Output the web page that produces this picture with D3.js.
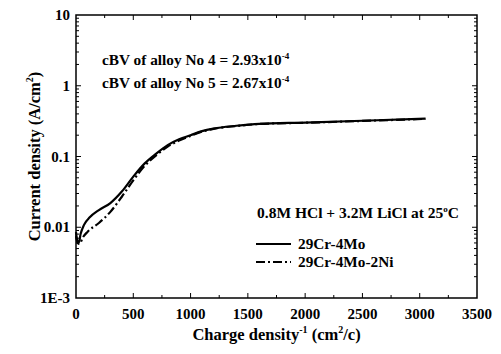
<!DOCTYPE html>
<html>
<head>
<meta charset="utf-8">
<script src="https://cdn.jsdelivr.net/npm/d3@7"></script>
<style>
  body { margin: 0; background: #fff; }
  text { font-family: "Liberation Serif", "Times New Roman", serif; font-weight: bold; fill: #000; }
</style>
</head>
<body>
<div id="chart"></div>
<script>
var svgWidth = 501;
var svgHeight = 354;

var margin = { top: 15, right: 24, bottom: 56, left: 76 };
var width = svgWidth - margin.left - margin.right;
var height = svgHeight - margin.top - margin.bottom;

// data
var chargeCr4Mo = [0, 10, 25, 40, 70, 120, 200, 300, 400, 500, 600, 700, 800, 900, 1000, 1100, 1200, 1400, 1600, 2000, 2500, 3050];
var currentCr4Mo = [0.0085, 0.0066, 0.0061, 0.008, 0.0108, 0.0138, 0.0175, 0.022, 0.032, 0.052, 0.08, 0.11, 0.145, 0.175, 0.2, 0.228, 0.248, 0.272, 0.29, 0.302, 0.32, 0.342];

var chargeCr4Mo2Ni = [0, 15, 30, 60, 100, 200, 300, 400, 500, 600, 700, 800, 900, 1000, 1100, 1200, 1400, 1600, 2000, 2500, 3050];
var currentCr4Mo2Ni = [0.0075, 0.006, 0.0058, 0.0072, 0.0086, 0.0115, 0.0165, 0.027, 0.046, 0.074, 0.104, 0.138, 0.168, 0.196, 0.225, 0.246, 0.27, 0.288, 0.3, 0.318, 0.34];

var xTicks = [0, 500, 1000, 1500, 2000, 2500, 3000, 3500];
var yTicks = [0.001, 0.01, 0.1, 1, 10];
var yTickLabels = ["1E-3", "0.01", "0.1", "1", "10"];

var seriesNames = ["29Cr-4Mo", "29Cr-4Mo-2Ni"];
var dashes = [null, "9,3,2,3"];

var svg = d3.select("#chart")
  .append("svg")
  .attr("width", svgWidth)
  .attr("height", svgHeight);

var chartGroup = svg.append("g")
  .attr("transform", `translate(${margin.left}, ${margin.top})`);

var xScale = d3.scaleLinear().domain([0, 3500]).range([0, width]);
var yScale = d3.scaleLog().domain([0.001, 10]).range([height, 0]);

// minor ticks
var xMinor = d3.range(250, 3500, 500);
var yMinor = [];
[0.001, 0.01, 0.1, 1].forEach(function(d) {
  for (var i = 2; i <= 9; i++) yMinor.push(d * i);
});

var tickGroup = chartGroup.append("g").attr("stroke", "#000").attr("stroke-width", 1);

// x ticks bottom and top (inward)
xTicks.slice(1, -1).forEach(function(t) {
  tickGroup.append("line").attr("x1", xScale(t)).attr("x2", xScale(t)).attr("y1", height).attr("y2", height - 5);
  tickGroup.append("line").attr("x1", xScale(t)).attr("x2", xScale(t)).attr("y1", 0).attr("y2", 5);
});
xMinor.forEach(function(t) {
  tickGroup.append("line").attr("x1", xScale(t)).attr("x2", xScale(t)).attr("y1", height).attr("y2", height - 3);
  tickGroup.append("line").attr("x1", xScale(t)).attr("x2", xScale(t)).attr("y1", 0).attr("y2", 3);
});
// y ticks left and right (inward)
yTicks.slice(1, -1).forEach(function(t) {
  tickGroup.append("line").attr("x1", 0).attr("x2", 5).attr("y1", yScale(t)).attr("y2", yScale(t));
  tickGroup.append("line").attr("x1", width).attr("x2", width - 5).attr("y1", yScale(t)).attr("y2", yScale(t));
});
yMinor.forEach(function(t) {
  tickGroup.append("line").attr("x1", 0).attr("x2", 3).attr("y1", yScale(t)).attr("y2", yScale(t));
  tickGroup.append("line").attr("x1", width).attr("x2", width - 3).attr("y1", yScale(t)).attr("y2", yScale(t));
});

// frame
chartGroup.append("rect")
  .attr("width", width)
  .attr("height", height)
  .attr("fill", "none")
  .attr("stroke", "#000")
  .attr("stroke-width", 1.5);

// tick labels
chartGroup.selectAll(".xlab")
  .data(xTicks)
  .enter()
  .append("text")
  .attr("x", d => xScale(d))
  .attr("y", height + 21)
  .attr("text-anchor", "middle")
  .attr("font-size", 15)
  .text(d => d);

chartGroup.selectAll(".ylab")
  .data(yTicks)
  .enter()
  .append("text")
  .attr("x", -6)
  .attr("y", d => yScale(d) + 5)
  .attr("text-anchor", "end")
  .attr("font-size", 15)
  .text((d, i) => yTickLabels[i]);

// curves
var line = d3.line()
  .x(d => xScale(d[0]))
  .y(d => yScale(d[1]))
  .curve(d3.curveMonotoneX);

var series = [
  d3.zip(chargeCr4Mo, currentCr4Mo),
  d3.zip(chargeCr4Mo2Ni, currentCr4Mo2Ni)
];

series.forEach(function(s, i) {
  chartGroup.append("path")
    .datum(s)
    .attr("d", line)
    .attr("fill", "none")
    .attr("stroke", "#000")
    .attr("stroke-width", 2.2)
    .attr("stroke-dasharray", dashes[i]);
});

// annotations
var note1 = chartGroup.append("text").attr("x", 26).attr("y", 50).attr("font-size", 15.3);
note1.append("tspan").text("cBV of alloy No 4 = 2.93x10");
note1.append("tspan").attr("dy", -6).attr("font-size", 9).text("-4");

var note2 = chartGroup.append("text").attr("x", 26).attr("y", 73).attr("font-size", 15.3);
note2.append("tspan").text("cBV of alloy No 5 = 2.67x10");
note2.append("tspan").attr("dy", -6).attr("font-size", 9).text("-4");

var cond = chartGroup.append("text").attr("x", 181).attr("y", 203).attr("font-size", 15.5);
cond.append("tspan").text("0.8M HCl + 3.2M LiCl at 25");
cond.append("tspan").attr("dy", -6).attr("font-size", 9).text("o");
cond.append("tspan").attr("dy", 6).text("C");

// legend
seriesNames.forEach(function(name, i) {
  var ly = 229 + i * 18;
  chartGroup.append("line")
    .attr("x1", 180).attr("x2", 215)
    .attr("y1", ly).attr("y2", ly)
    .attr("stroke", "#000")
    .attr("stroke-width", 2)
    .attr("stroke-dasharray", dashes[i]);
  chartGroup.append("text")
    .attr("x", 222)
    .attr("y", ly + 5)
    .attr("font-size", 15.3)
    .text(name);
});

// axis labels
var xLabel = svg.append("text")
  .attr("x", margin.left + width / 2)
  .attr("y", 340)
  .attr("text-anchor", "middle")
  .attr("font-size", 16.5);
xLabel.append("tspan").text("Charge density");
xLabel.append("tspan").attr("dy", -7).attr("font-size", 10).text("-1");
xLabel.append("tspan").attr("dy", 7).text(" (cm");
xLabel.append("tspan").attr("dy", -7).attr("font-size", 10).text("2");
xLabel.append("tspan").attr("dy", 7).text("/c)");

var yLabel = svg.append("text")
  .attr("transform", `translate(40, ${margin.top + height / 2}) rotate(-90)`)
  .attr("text-anchor", "middle")
  .attr("font-size", 16.5);
yLabel.append("tspan").text("Current density (A/cm");
yLabel.append("tspan").attr("dy", -7).attr("font-size", 10).text("2");
yLabel.append("tspan").attr("dy", 7).text(")");
</script>
</body>
</html>
